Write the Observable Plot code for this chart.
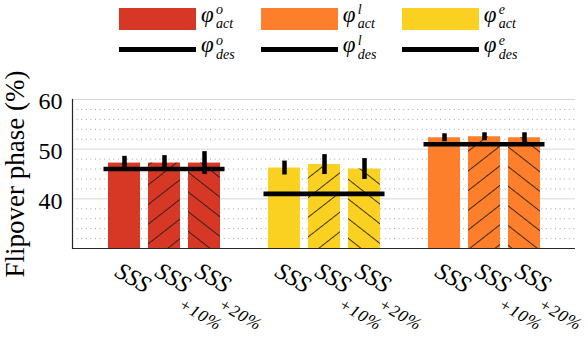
<!DOCTYPE html>
<html><head><meta charset="utf-8">
<script src="https://cdn.jsdelivr.net/npm/d3@7"></script>
<script src="https://cdn.jsdelivr.net/npm/@observablehq/plot@0.6"></script>
<style>
body{margin:0;background:#fff;width:588px;height:343px;overflow:hidden}
#legend{position:relative;height:64px;font-family:"Liberation Serif","Times New Roman",serif;color:#000}
#legend div{position:absolute}
#legend span{position:absolute;line-height:1;font-style:italic;white-space:nowrap}
</style></head><body>
<div id="legend"></div>
<div id="chart"></div>
<script>
// ---- data ----
const groups = ["o", "e", "l"];                 // plotted group order
const variants = ["SSS", "SSS+10", "SSS+20"];
const tickMain = ["SSS", "SSS", "SSS"];
const tickSub = ["", "+10%", "+20%"];
const actualO = [47.2, 47.2, 47.2];
const errorO  = [1.35, 1.5, 2.3];
const actualE = [46.2, 46.9, 46.0];
const errorE  = [1.4, 2.0, 2.1];
const actualL = [52.3, 52.5, 52.3];
const errorL  = [0.8, 0.8, 1.0];
const desiredValues = [46, 41, 51];             // per group, same order as groups
const yDomain = [30, 60];
const majorTicks = [40, 50, 60];
const minorTicks = [32, 34, 36, 38, 42, 44, 46, 48, 52, 54, 56, 58];
const legendKeys = ["o", "l", "e"];
const colorOf = {o: "#d73826", l: "#fd7e2b", e: "#fad021"};

// ---- tables ----
const actual = {o: actualO, e: actualE, l: actualL};
const errs = {o: errorO, e: errorE, l: errorL};
const rows = [];
groups.forEach(g => variants.forEach((v, vi) => rows.push({
  slot: g + "|" + v, group: g, vi, value: actual[g][vi], err: errs[g][vi],
  main: tickMain[vi], sub: tickSub[vi]
})));
const slots = [];
groups.forEach((g, gi) => { if (gi > 0) slots.push("gap" + gi); variants.forEach(v => slots.push(g + "|" + v)); });
const desiredRows = groups.map((g, gi) => ({group: g, x1: g + "|" + variants[0], x2: g + "|" + variants[variants.length - 1], value: desiredValues[gi]}));

// ---- legend (HTML) ----
const legend = document.getElementById("legend");
const colX = [119, 260.7, 401.7];
legendKeys.forEach((k, i) => {
  const x = colX[i];
  const rect = document.createElement("div");
  Object.assign(rect.style, {left: x + "px", top: "8px", width: "77px", height: "21.5px", background: colorOf[k]});
  legend.appendChild(rect);
  const line = document.createElement("div");
  Object.assign(line.style, {left: x + "px", top: "46.8px", width: "77px", height: "5.2px", background: "#000"});
  legend.appendChild(line);
  [["act", 22], ["des", 52.5]].forEach(([sub, base]) => {
    const add = (txt, fs, left, baseline) => {
      const s = document.createElement("span");
      s.textContent = txt;
      Object.assign(s.style, {fontSize: fs + "px", left: left + "px", top: (baseline - 0.8375 * fs) + "px"});
      legend.appendChild(s);
    };
    add("φ", 23, x + 82, base);
    add(k, 14, x + 97, base - 7);
    add(sub, 14, x + 97, base + 7);
  });
});

// ---- chart ----
const serif = "Liberation Serif, Times New Roman, serif";
const chart = Plot.plot({
  width: 588, height: 279,
  marginTop: 35, marginBottom: 95, marginLeft: 72, marginRight: 13,
  x: {type: "band", domain: slots, paddingInner: 0.21, paddingOuter: 0.815, axis: null},
  y: {domain: yDomain, axis: null},
  color: {domain: Object.keys(colorOf), range: Object.values(colorOf)},
  marks: [
    Plot.ruleY(minorTicks, {stroke: "#a3a3a3", strokeWidth: 1, strokeDasharray: "1,3.6"}),
    Plot.ruleY(majorTicks, {stroke: "#d6d6d6", strokeWidth: 1}),
    Plot.barY(rows, {x: "slot", y1: yDomain[0], y2: "value", fill: "group"}),
    Plot.barY(rows.filter(d => d.vi === 1), {x: "slot", y1: yDomain[0], y2: "value", fill: "url(#hatchF)"}),
    Plot.barY(rows.filter(d => d.vi === 2), {x: "slot", y1: yDomain[0], y2: "value", fill: "url(#hatchB)"}),
    Plot.ruleX(rows, {x: "slot", y1: d => d.value - d.err, y2: d => d.value + d.err, stroke: "#000", strokeWidth: 4.5}),
    Plot.ruleY(desiredRows, {x1: "x1", x2: "x2", y: "value", stroke: "#000", strokeWidth: 4.6, insetLeft: -4.5, insetRight: -4.5}),
    Plot.ruleY([yDomain[0]], {stroke: "#262626", strokeWidth: 1.2}),
    Plot.frame({anchor: "left", stroke: "#262626", strokeWidth: 1.2}),
    Plot.text(majorTicks, {y: d => d, frameAnchor: "left", textAnchor: "end", dx: -10, dy: 2, fontSize: 24, fontFamily: serif, fill: "#000"}),
    Plot.text(["Flipover phase (%)"], {frameAnchor: "left", rotate: -90, dx: -57, fontSize: 27, fontFamily: serif, fill: "#000", textAnchor: "middle"}),
    Plot.text(rows, {x: "slot", text: "main", frameAnchor: "bottom", rotate: 30, textAnchor: "start", lineAnchor: "bottom", dx: -11, dy: 27, fontSize: 24, fontStyle: "italic", fontFamily: serif, fill: "#000"}),
    Plot.text(rows, {x: "slot", text: "sub", frameAnchor: "bottom", rotate: 30, textAnchor: "start", lineAnchor: "bottom", dx: 13, dy: 59, fontSize: 17, fontStyle: "italic", fontFamily: serif, fill: "#000"})
  ]
});
const svg = d3.select(chart);
const defs = svg.insert("defs", ":first-child");
[["hatchF", -38], ["hatchB", 38]].forEach(([id, a]) => {
  const p = defs.append("pattern").attr("id", id).attr("patternUnits", "userSpaceOnUse")
    .attr("width", 10).attr("height", 15.5).attr("patternTransform", `rotate(${a})`);
  p.append("line").attr("x1", 0).attr("x2", 10).attr("y1", 0.5).attr("y2", 0.5)
    .attr("stroke", "#1a1a1a").attr("stroke-width", 0.85);
});
// slightly wider spacing for the subscripts
svg.selectAll("text").each(function () {
  if (this.textContent.startsWith("+")) this.style.letterSpacing = "1px";
});
document.getElementById("chart").appendChild(chart);
</script>
</body></html>
